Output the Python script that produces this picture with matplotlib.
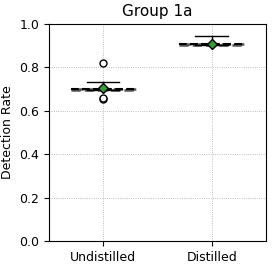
"""Group 1a detection-rate box plot."""

import matplotlib

matplotlib.use("Agg")
import matplotlib.pyplot as plt

categories = ["Undistilled", "Distilled"]
q1 = [0.697, 0.905]
median = [0.700, 0.908]
q3 = [0.703, 0.910]
whisker_low = [0.697, 0.905]
whisker_high = [0.733, 0.946]
mean = [0.705, 0.908]
fliers = [[0.82, 0.655, 0.66], []]

stats = [
    {
        "label": name,
        "q1": q1[i],
        "med": median[i],
        "q3": q3[i],
        "whislo": whisker_low[i],
        "whishi": whisker_high[i],
        "mean": mean[i],
        "fliers": fliers[i],
    }
    for i, name in enumerate(categories)
]

fig = plt.figure(figsize=(2.78, 2.68), dpi=100)
ax = fig.add_axes([0.176, 0.1007, 0.781, 0.8093])

ax.bxp(
    stats,
    positions=range(len(categories)),
    widths=0.6,
    patch_artist=True,
    showmeans=True,
    boxprops={"facecolor": "#bbbbbb", "edgecolor": "#555555", "linestyle": "--", "linewidth": 1.8},
    medianprops={"color": "black", "linestyle": "--", "linewidth": 1.5},
    whiskerprops={"color": "black", "linewidth": 1.0},
    capprops={"color": "black", "linewidth": 1.0},
    meanprops={"marker": "D", "markerfacecolor": "#3a9a3a", "markeredgecolor": "black", "markersize": 5},
    flierprops={"marker": "o", "markerfacecolor": "white", "markeredgecolor": "black", "markersize": 5},
)

ax.set_xlim(-0.5, 1.5)
ax.set_ylim(0.0, 1.0)
ax.set_xticks(range(len(categories)))
ax.set_xticklabels(categories, fontsize=9)
ax.tick_params(axis="y", labelsize=9)
ax.set_ylabel("Detection Rate", fontsize=9)
ax.set_title("Group 1a", fontsize=11)
ax.grid(True, linestyle=":", color="#aaaaaa", linewidth=0.6)
ax.set_axisbelow(True)

fig.savefig("out.png", dpi=100)
